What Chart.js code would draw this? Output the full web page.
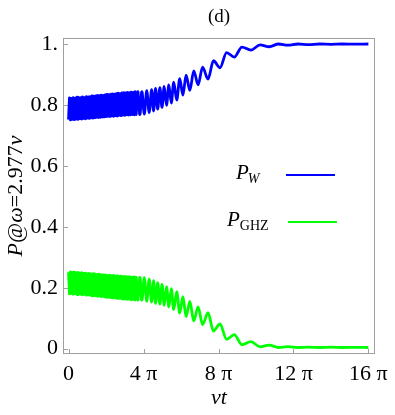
<!DOCTYPE html>
<html><head><meta charset="utf-8">
<script src="https://cdn.jsdelivr.net/npm/chart.js@4.4.1/dist/chart.umd.min.js"></script>
<style>html,body{margin:0;padding:0;background:#fff}#wrap{width:395px;height:415px;position:relative}canvas{display:block}</style>
</head><body><div id="wrap"><canvas id="c" width="395" height="415"></canvas></div>
<script>
// ---- data (time in units of π) ----
const panelLabel = '(d)';
const xAxisTitle = 'νt';
const seriesNames = ['W', 'GHZ'];
const seriesColors = ['#0000ff', '#00ff00'];
const times = [
  0, 0.05, 0.10, 0.15, 0.20, 0.25, 0.30, 0.35, 0.40, 0.45,
  0.50, 0.55, 0.60, 0.65, 0.70, 0.75, 0.80, 0.85, 0.90, 0.95,
  1.00, 1.05, 1.10, 1.15, 1.20, 1.25, 1.30, 1.35, 1.40, 1.45,
  1.50, 1.55, 1.60, 1.65, 1.70, 1.75, 1.80, 1.85, 1.90, 1.95,
  2.00, 2.05, 2.10, 2.15, 2.20, 2.25, 2.30, 2.35, 2.40, 2.45,
  2.50, 2.55, 2.60, 2.65, 2.70, 2.75, 2.80, 2.85, 2.90, 2.95,
  3.00, 3.05, 3.10, 3.15, 3.20, 3.25, 3.30, 3.35, 3.40, 3.45,
  3.50, 3.55, 3.60, 3.70, 3.80,
  3.91, 4.04, 4.17, 4.30, 4.43, 4.535, 4.64, 4.755, 4.87, 4.985,
  5.10, 5.225, 5.35, 5.48, 5.61, 5.77, 5.93, 6.10, 6.27, 6.47,
  6.68, 6.91, 7.15, 7.44, 7.73, 8.08, 8.43, 8.84, 9.25, 9.73,
  10.22, 10.71, 11.20, 11.70, 12.25, 12.80, 13.40, 14.00, 14.60, 15.30,
  16.00
];
const pW = [
  .752,.823,.751,.821,.753,.824,.752,.822,.754,.825,
  .753,.823,.755,.824,.754,.826,.756,.824,.755,.827,
  .757,.826,.756,.827,.758,.829,.757,.828,.758,.829,
  .760,.831,.759,.830,.760,.832,.761,.831,.761,.833,
  .762,.834,.763,.833,.762,.835,.764,.836,.763,.835,
  .765,.837,.764,.838,.766,.837,.765,.839,.767,.840,
  .766,.839,.768,.841,.767,.840,.768,.842,.769,.841,
  .768,.843,.769,.843,.769,
  .844,.770,.847,.775,.850,.780,.854,.786,.857,.792,
  .861,.799,.866,.806,.875,.816,.886,.832,.898,.848,
  .912,.866,.924,.885,.945,.922,.972,.957,.990,.980,
  .997,.991,1.000,.996,1.000,.998,1.000,.999,1.000,.9995,
  1.000
];
const pGHZ = [
  .251,.180,.252,.182,.250,.179,.251,.181,.249,.178,
  .250,.180,.248,.179,.249,.177,.247,.179,.248,.176,
  .246,.177,.247,.176,.245,.174,.246,.175,.245,.174,
  .243,.172,.244,.173,.243,.171,.242,.172,.242,.170,
  .241,.169,.240,.170,.241,.168,.239,.167,.240,.168,
  .238,.166,.239,.165,.237,.166,.238,.164,.236,.163,
  .237,.164,.235,.162,.236,.163,.235,.161,.234,.162,
  .235,.160,.234,.160,.234,
  .159,.233,.156,.228,.153,.223,.149,.217,.146,.211,
  .142,.204,.137,.197,.128,.187,.117,.171,.105,.155,
  .091,.137,.079,.118,.058,.081,.031,.046,.013,.023,
  .006,.012,.004,.007,.004,.005,.004,.005,.004,.0045,
  .004
];
// index where the fast (unresolved) oscillation gives way to resolved swings
const resolvedFrom = 75;
const xTickValues = [0, 4, 8, 12, 16];
const xTickLabels = ['0', '4 π', '8 π', '12 π', '16 π'];
const yTickValues = [0, 0.2, 0.4, 0.6, 0.8, 1];
const yTickLabels = ['0', '0.2', '0.4', '0.6', '0.8', '1.'];
const yTitleParts = [['P', true], ['@', false], ['ω', true], ['=2.977', false], ['ν', true]];

const SERIF = "'Liberation Serif', 'DejaVu Serif', serif";

const toPoints = (ys, a, b) => times.slice(a, b).map((t, i) => ({x: t, y: ys[a + i]}));

const framePlugin = {
  id: 'frame',
  beforeDatasetsDraw(chart) {
    const {ctx, chartArea: a, scales} = chart;
    ctx.save();
    ctx.strokeStyle = '#a0a0a0';
    ctx.lineWidth = 1;
    ctx.strokeRect(Math.round(a.left) + 0.5, Math.round(a.top) + 0.5,
                   Math.round(a.right - a.left) - 1, Math.round(a.bottom - a.top) - 1);
    ctx.beginPath();
    xTickValues.forEach(v => {
      const px = Math.round(scales.x.getPixelForValue(v)) + 0.5;
      ctx.moveTo(px, a.bottom); ctx.lineTo(px, a.bottom - 5);
    });
    yTickValues.forEach(v => {
      const py = Math.round(scales.y.getPixelForValue(v)) + 0.5;
      ctx.moveTo(a.left, py); ctx.lineTo(a.left + 5, py);
    });
    ctx.stroke();
    ctx.restore();
  },
  afterDraw(chart) {
    const {ctx, chartArea: a} = chart;
    const cx = (a.left + a.right) / 2;
    ctx.save();
    ctx.fillStyle = '#000';
    ctx.textBaseline = 'middle';
    ctx.textAlign = 'center';
    ctx.font = '19px ' + SERIF;
    ctx.fillText(panelLabel, cx, 17);
    ctx.font = 'italic 22px ' + SERIF;
    ctx.fillText(xAxisTitle, cx, 398);
    ctx.save();
    ctx.translate(16, (a.top + a.bottom) / 2);
    ctx.rotate(-Math.PI / 2);
    ctx.textAlign = 'left';
    let total = 0;
    const widths = yTitleParts.map(([s, it]) => {
      ctx.font = (it ? 'italic ' : '') + '22px ' + SERIF;
      const w = ctx.measureText(s).width; total += w; return w;
    });
    let x0 = -total / 2;
    yTitleParts.forEach(([s, it], i) => {
      ctx.font = (it ? 'italic ' : '') + '22px ' + SERIF;
      ctx.fillText(s, x0, 0);
      x0 += widths[i];
    });
    ctx.restore();
    ctx.textAlign = 'left';
    ctx.textBaseline = 'alphabetic';
    const entries = [
      {px: 236, base: 179, sub: seriesNames[0], subItalic: true, lx0: 286, lx1: 335, ly: 175, col: seriesColors[0]},
      {px: 227, base: 226, sub: seriesNames[1], subItalic: false, lx0: 288, lx1: 337, ly: 222, col: seriesColors[1]}
    ];
    entries.forEach(e => {
      ctx.font = 'italic 21px ' + SERIF;
      ctx.fillText('P', e.px, e.base);
      const wP = ctx.measureText('P').width;
      ctx.font = (e.subItalic ? 'italic ' : '') + '14px ' + SERIF;
      ctx.fillText(e.sub, e.px + wP + (e.subItalic ? -1 : 0), e.base + 4);
      ctx.strokeStyle = e.col;
      ctx.lineWidth = 2;
      ctx.beginPath();
      ctx.moveTo(e.lx0, e.ly); ctx.lineTo(e.lx1, e.ly);
      ctx.stroke();
    });
    ctx.restore();
  }
};

const fastPart = (ys, col) => ({data: toPoints(ys, 0, resolvedFrom + 1), borderColor: col, borderWidth: 3,
  pointRadius: 0, tension: 0, borderJoinStyle: 'round', fill: false});
const slowPart = (ys, col) => ({data: toPoints(ys, resolvedFrom - 1, times.length), borderColor: col, borderWidth: 2.8,
  pointRadius: 0, cubicInterpolationMode: 'monotone', borderJoinStyle: 'round', fill: false});

new Chart(document.getElementById('c'), {
  type: 'line',
  data: {
    datasets: [
      Object.assign({label: 'P_W'}, fastPart(pW, seriesColors[0])),
      Object.assign({label: 'P_W'}, slowPart(pW, seriesColors[0])),
      Object.assign({label: 'P_GHZ'}, fastPart(pGHZ, seriesColors[1])),
      Object.assign({label: 'P_GHZ'}, slowPart(pGHZ, seriesColors[1]))
    ]
  },
  options: {
    responsive: false,
    animation: false,
    devicePixelRatio: 1,
    layout: {padding: {top: 38, right: 15, left: 0, bottom: 0}},
    plugins: {legend: {display: false}, tooltip: {enabled: false}, title: {display: false}},
    scales: {
      x: {
        type: 'linear', min: -0.3, max: 16.35,
        afterBuildTicks: s => { s.ticks = xTickValues.map(v => ({value: v})); },
        afterFit: s => { s.height = 61; },
        ticks: {callback: (v, i) => xTickLabels[i], font: {family: SERIF, size: 22}, color: '#000', padding: 7, maxRotation: 0, autoSkip: false},
        grid: {display: false, drawTicks: false},
        border: {display: false}
      },
      y: {
        type: 'linear', min: -0.0174, max: 1.0197,
        afterBuildTicks: s => { s.ticks = yTickValues.map(v => ({value: v})); },
        afterFit: s => { s.width = 63; },
        ticks: {callback: (v, i) => yTickLabels[i], font: {family: SERIF, size: 22}, color: '#000', padding: 5, autoSkip: false},
        grid: {display: false, drawTicks: false},
        border: {display: false}
      }
    }
  },
  plugins: [framePlugin]
});
</script></body></html>
